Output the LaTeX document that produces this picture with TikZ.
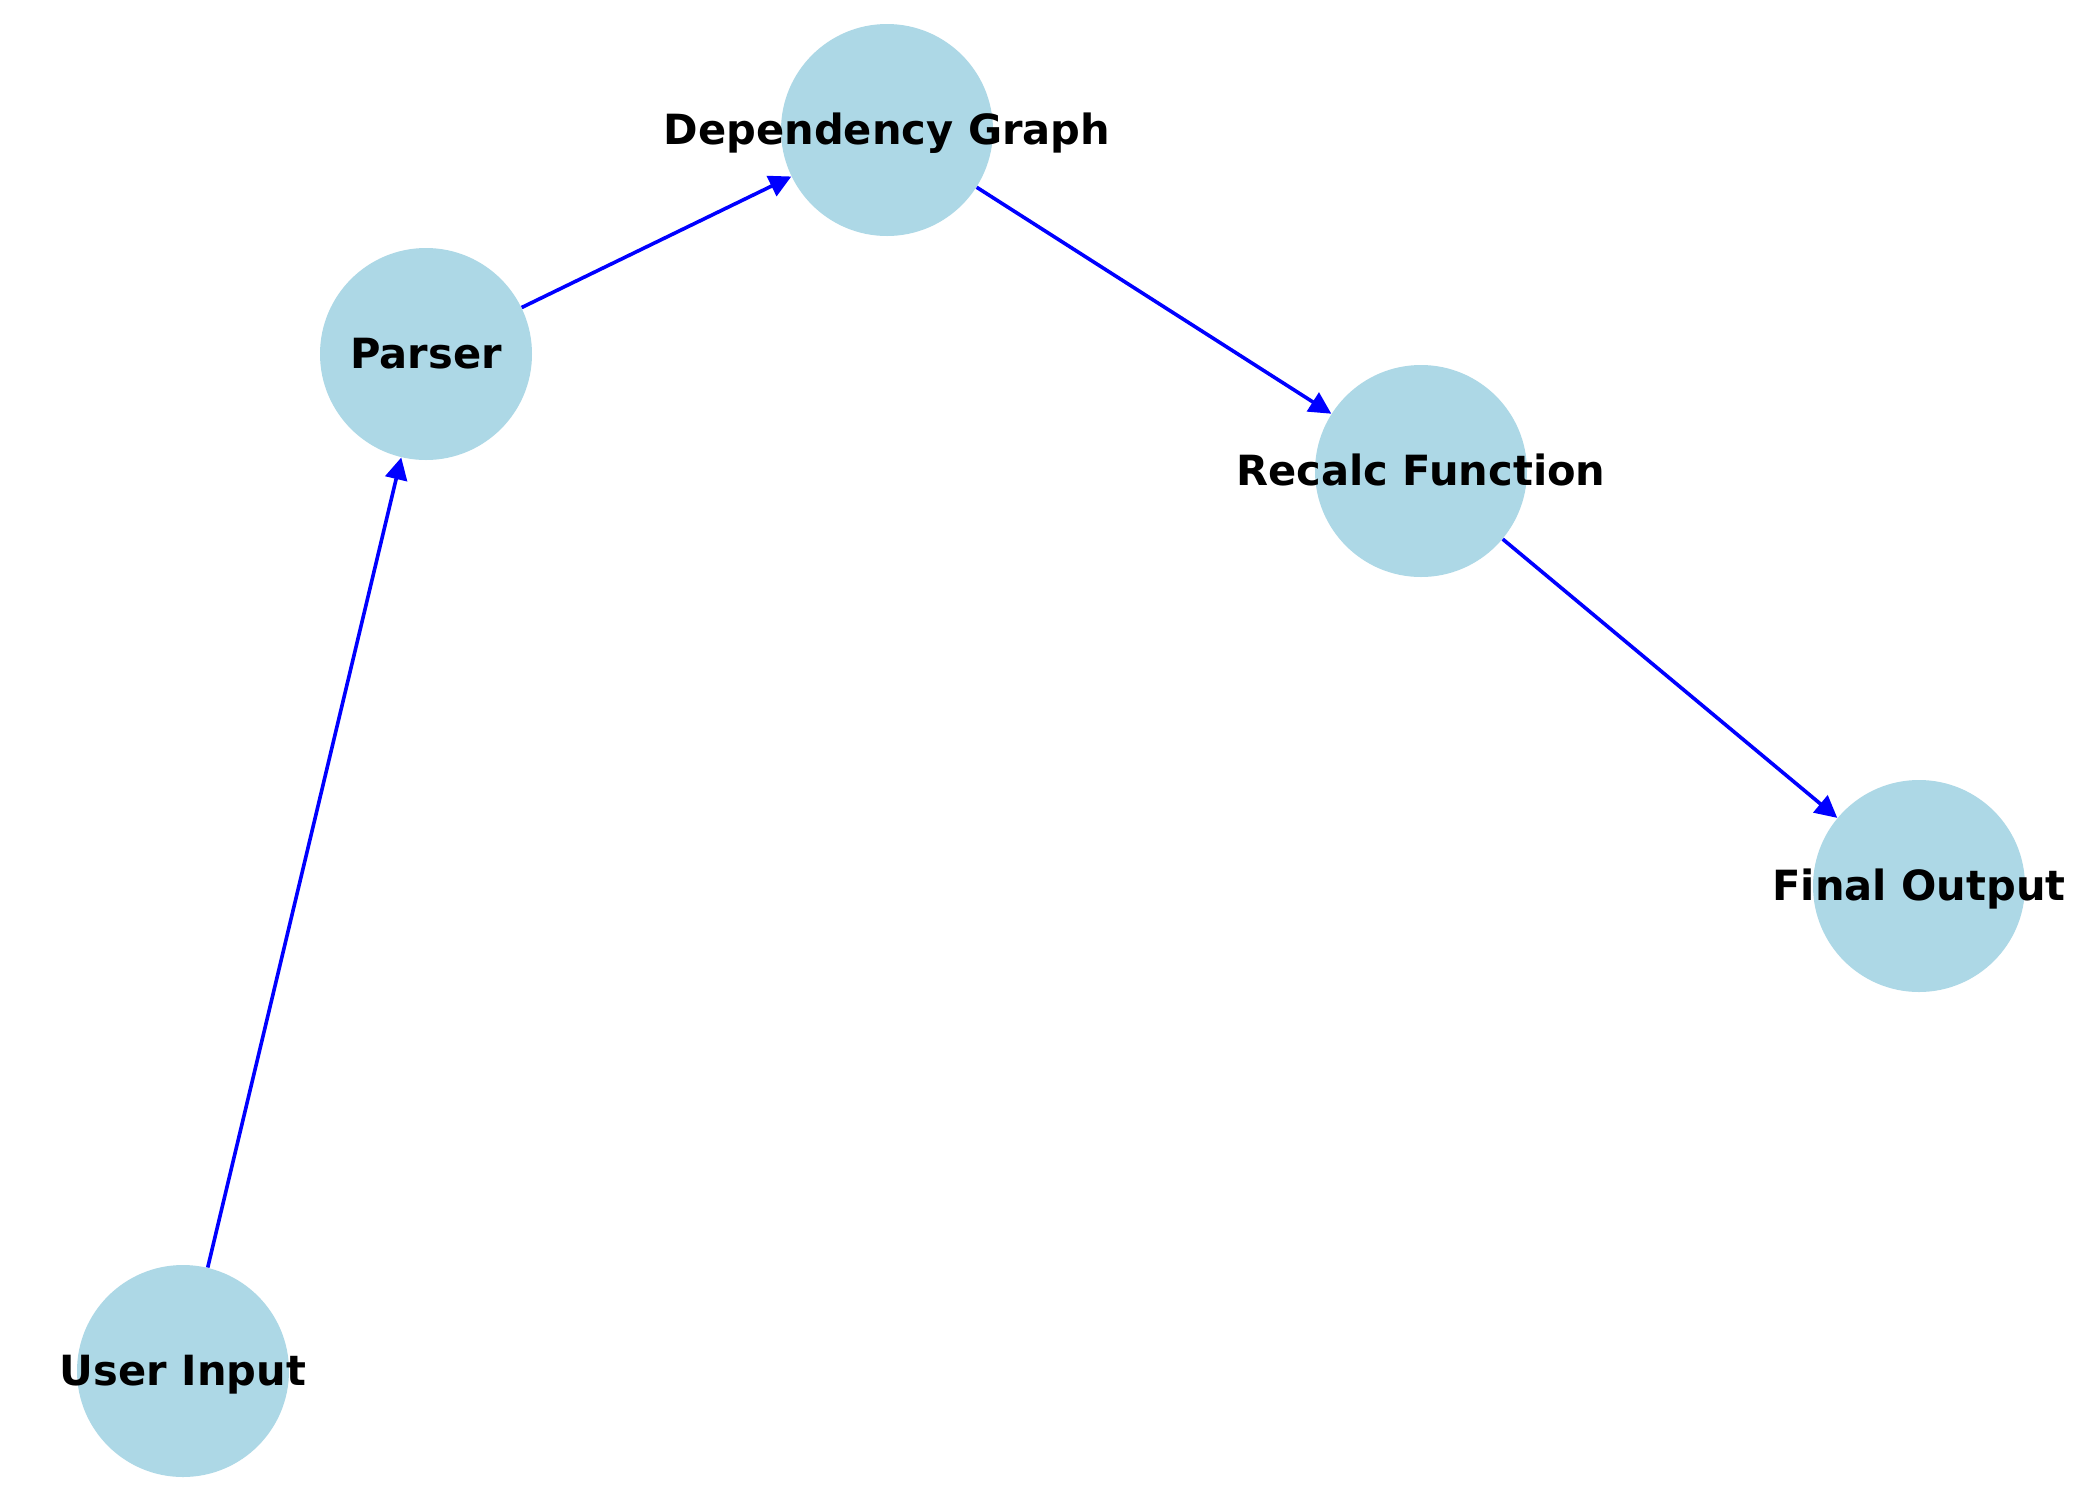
\documentclass[tikz,border=0pt]{standalone}
\usepackage{fontspec}
\setmainfont{DejaVu Sans}
\usetikzlibrary{arrows.meta}
\definecolor{nodeblue}{HTML}{ADD8E6}
\definecolor{edgeblue}{HTML}{0000FF}
\tikzset{
  graphnode/.style={circle, fill=nodeblue, draw=none, minimum size=106pt, inner sep=0pt},
  nodelabel/.style={font=\fontsize{20.8pt}{25pt}\selectfont\bfseries, text height=20pt, text depth=6pt, inner sep=0pt},
  edge/.style={draw=edgeblue, line width=1.8pt, -{Triangle[length=11pt,width=11pt]}}
}
\begin{document}
\begin{tikzpicture}[x=0.5pt,y=-0.5pt]
\fill[white] (0,0) rectangle (2100,1500);
\useasboundingbox (0,0) rectangle (2100,1500);
\node[graphnode, label={[nodelabel]center:User Input}] (user) at (183,1371) {};
\node[graphnode, label={[nodelabel]center:Parser}] (parser) at (426,354) {};
\node[graphnode, label={[nodelabel]center:Dependency Graph}] (dep) at (887,130) {};
\node[graphnode, label={[nodelabel]center:Recalc Function}] (recalc) at (1421,471) {};
\node[graphnode, label={[nodelabel]center:Final Output}] (final) at (1919,886) {};
\draw[edge] (user) -- (parser);
\draw[edge] (parser) -- (dep);
\draw[edge] (dep) -- (recalc);
\draw[edge] (recalc) -- (final);
\end{tikzpicture}
\end{document}
